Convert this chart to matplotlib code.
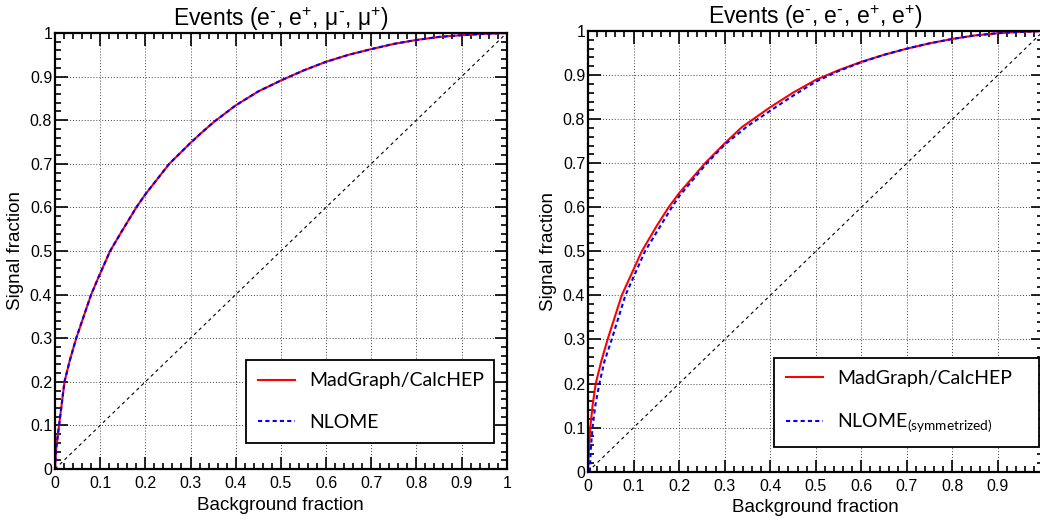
import numpy as np
import matplotlib
matplotlib.use("Agg")
import matplotlib.pyplot as plt
from matplotlib.ticker import MultipleLocator, FuncFormatter

plt.rcParams['font.family'] = ['Liberation Sans', 'DejaVu Sans']
plt.rcParams['mathtext.default'] = 'regular'

# ROC curves (background fraction, signal fraction)
left_bkg_mg  = [0, 0.001, 0.003, 0.009, 0.021, 0.033, 0.047, 0.080, 0.096, 0.122, 0.146, 0.180, 0.200,
                0.253, 0.300, 0.324, 0.353, 0.400, 0.45, 0.50, 0.55, 0.60, 0.65, 0.70, 0.75, 0.80, 0.85, 0.90, 0.95, 1.0]
left_sig_mg  = [0, 0.02, 0.05, 0.10, 0.20, 0.25, 0.30, 0.400, 0.439, 0.50, 0.542, 0.600, 0.630,
                0.700, 0.748, 0.771, 0.797, 0.834, 0.866, 0.891, 0.914, 0.934, 0.950, 0.963, 0.975, 0.984, 0.991, 0.995, 0.998, 1.0]
left_bkg_nlo = list(left_bkg_mg)
left_sig_nlo = list(left_sig_mg)

right_bkg_mg  = [0, 0.002, 0.005, 0.010, 0.017, 0.029, 0.043, 0.074, 0.118, 0.151, 0.177, 0.200, 0.257,
                 0.300, 0.338, 0.400, 0.45, 0.50, 0.55, 0.60, 0.65, 0.70, 0.75, 0.80, 0.85, 0.90, 0.95, 1.0]
right_sig_mg  = [0, 0.05, 0.10, 0.15, 0.20, 0.25, 0.30, 0.40, 0.50, 0.558, 0.600, 0.632, 0.700,
                 0.745, 0.782, 0.827, 0.860, 0.889, 0.911, 0.930, 0.946, 0.960, 0.972, 0.982, 0.990, 0.995, 0.998, 1.0]
right_bkg_nlo = [0.004, 0.006, 0.010, 0.016, 0.025, 0.036, 0.052, 0.082, 0.125, 0.184, 0.200, 0.261,
                 0.300, 0.350, 0.400, 0.45, 0.50, 0.55, 0.60, 0.65, 0.70, 0.75, 0.80, 0.85, 0.90, 0.95, 1.0]
right_sig_nlo = [0, 0.05, 0.10, 0.15, 0.20, 0.25, 0.30, 0.40, 0.50, 0.600, 0.625, 0.700,
                 0.742, 0.784, 0.819, 0.853, 0.885, 0.909, 0.929, 0.946, 0.960, 0.972, 0.982, 0.990, 0.995, 0.998, 1.0]

diag = [0, 1]

titles = [r"Events (e$^{\text{-}}$, e$^{+}$, $\mathregular{\mu}^{\text{-}}$, $\mathregular{\mu}^{+}$)",
          r"Events (e$^{\text{-}}$, e$^{\text{-}}$, e$^{+}$, e$^{+}$)"]
labels_mg = ["MadGraph/CalcHEP", "MadGraph/CalcHEP"]
labels_nlo = ["NLOME", r"NLOME$_{\mathregular{(symmetrized)}}$"]

W, H = 1040, 523
fig = plt.figure(figsize=(W/100., H/100.), dpi=100)

# axes boxes in pixels: left, top, right, bottom
boxes = [(55, 33, 506.7, 469), (588, 31, 1043.5, 471.7)]
leg_boxes = [(0.422, 0.059, 0.550, 0.199), (0.408, 0.056, 0.582, 0.197)]

def fmt(v, pos):
  if abs(v) < 1e-9:
    return "0"
  if abs(v-1) < 1e-9:
    return "1"
  return "%.1f" % v

def fmt_cut(v, pos):
  # right panel: the "1" label falls off the picture
  if abs(v-1) < 1e-9:
    return ""
  return fmt(v, pos)

curves = [(left_bkg_mg, left_sig_mg, left_bkg_nlo, left_sig_nlo),
          (right_bkg_mg, right_sig_mg, right_bkg_nlo, right_sig_nlo)]

for i in range(2):
  l, t, r, b = boxes[i]
  ax = fig.add_axes([l/W, (H-b)/H, (r-l)/W, (b-t)/H])
  ax.set_xlim(0, 1)
  ax.set_ylim(0, 1)

  ax.plot(diag, diag, color='black', lw=0.8, dashes=(3, 3))
  bm, sm, bn, sn = curves[i]
  ax.plot(bm, sm, color='red', lw=1.5, label=labels_mg[i])
  ax.plot(bn, sn, color='blue', lw=1.5, dashes=(2, 1.5), label=labels_nlo[i])

  ax.xaxis.set_major_locator(MultipleLocator(0.1))
  ax.yaxis.set_major_locator(MultipleLocator(0.1))
  ax.xaxis.set_minor_locator(MultipleLocator(0.02))
  ax.yaxis.set_minor_locator(MultipleLocator(0.02))
  ax.xaxis.set_major_formatter(FuncFormatter(fmt if i == 0 else fmt_cut))
  ax.yaxis.set_major_formatter(FuncFormatter(fmt))
  ax.tick_params(which='both', direction='in', top=True, right=True, labelsize=11.5, width=1.2)
  ax.tick_params(which='major', length=9)
  ax.tick_params(which='minor', length=4.5)
  ax.tick_params(axis='y', pad=2)
  ax.tick_params(axis='x', pad=5)
  ax.grid(True, which='major', color='#444444', lw=0.7, ls=(0, (1, 2)))
  for sp in ax.spines.values():
    sp.set_linewidth(1.6)

  ax.set_xlabel("Background fraction", fontsize=13.5, labelpad=4)
  ax.set_ylabel("Signal fraction", fontsize=13.5, labelpad=4)
  ax.set_title(titles[i], fontsize=16.5, pad=4)

  leg = ax.legend(loc='lower left', bbox_to_anchor=leg_boxes[i], mode='expand',
                  borderaxespad=0, fancybox=False, framealpha=1, edgecolor='black',
                  prop={'family': 'Lato', 'size': 14}, handlelength=1.9,
                  handletextpad=0.7, labelspacing=1.25, borderpad=0.65)
  leg.get_frame().set_linewidth(1.3)

fig.savefig("out.png", dpi=100)
